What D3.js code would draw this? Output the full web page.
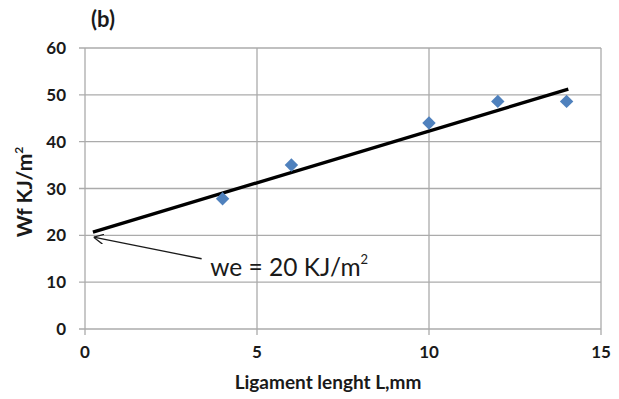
<!DOCTYPE html>
<meta charset="utf-8">
<script src="https://cdn.jsdelivr.net/npm/d3@7"></script>
<style>
  body { margin: 0; background: #fff; }
  text { font-family: Lato, "Open Sans", sans-serif; }
</style>
<div id="my_dataviz"></div>
<script>
// data
var lengths = [4, 6, 10, 12, 14];
var energies = [27.8, 35, 44, 48.6, 48.6];
// straight trend line, its two ends
var trendX = [0.23, 14.05];
var trendY = [20.7, 51.2];
var xTicks = [0, 5, 10, 15];
var yTicks = [0, 10, 20, 30, 40, 50, 60];

var margin = {top: 48, right: 18, bottom: 70, left: 85},
    width = 619 - margin.left - margin.right,
    height = 399 - margin.top - margin.bottom;

var svg = d3.select("#my_dataviz")
  .append("svg")
    .attr("width", 619)
    .attr("height", 399)
  .append("g")
    .attr("transform", "translate(" + margin.left + "," + margin.top + ")");

var x = d3.scaleLinear().domain([0, 15]).range([0, 516]);
var y = d3.scaleLinear().domain([0, 60]).range([281, 0]);

// grid
svg.selectAll(".hgrid").data(yTicks).enter().append("line")
  .attr("x1", -6).attr("x2", x(15))
  .attr("y1", function(d) { return y(d); })
  .attr("y2", function(d) { return y(d); })
  .attr("stroke", "#ababab").attr("stroke-width", 1.3);
svg.selectAll(".vgrid").data(xTicks).enter().append("line")
  .attr("y1", y(60)).attr("y2", y(0) + 6)
  .attr("x1", function(d) { return x(d); })
  .attr("x2", function(d) { return x(d); })
  .attr("stroke", "#ababab").attr("stroke-width", 1.3);

// tick labels
svg.selectAll(".ylab").data(yTicks).enter().append("text")
  .attr("x", -19)
  .attr("y", function(d) { return y(d) + 6; })
  .attr("text-anchor", "end")
  .attr("font-size", "17px").attr("font-weight", "bold").attr("fill", "#1a1a1a")
  .text(function(d) { return d; });
svg.selectAll(".xlab").data(xTicks).enter().append("text")
  .attr("x", function(d) { return x(d); })
  .attr("y", y(0) + 29)
  .attr("text-anchor", "middle")
  .attr("font-size", "17px").attr("font-weight", "bold").attr("fill", "#1a1a1a")
  .text(function(d) { return d; });

// axis titles
svg.append("text")
  .attr("x", 243).attr("y", y(0) + 60)
  .attr("font-size", "19px").attr("font-weight", "bold").attr("fill", "#1a1a1a")
  .attr("x", 328 - margin.left).attr("text-anchor", "middle")
  .text("Ligament lenght L,mm");

var yt = svg.append("text")
  .attr("transform", "translate(-53," + 144 + ") rotate(-90)")
  .attr("text-anchor", "middle")
  .attr("font-size", "21px").attr("font-weight", "bold").attr("fill", "#1a1a1a");
yt.append("tspan").text("Wf KJ/m");
yt.append("tspan").attr("font-size", "12px").attr("dy", -9).text("2");

svg.append("text")
  .attr("x", 6).attr("y", -21)
  .attr("font-size", "22px").attr("font-weight", "bold").attr("fill", "#1a1a1a")
  .text("(b)");

// trend line
svg.append("line")
  .attr("x1", x(trendX[0])).attr("y1", y(trendY[0]))
  .attr("x2", x(trendX[1])).attr("y2", y(trendY[1]))
  .attr("stroke", "#000").attr("stroke-width", 3.4);

// points
svg.selectAll(".pt").data(lengths).enter().append("path")
  .attr("d", d3.symbol().type(d3.symbolDiamond2).size(115))
  .attr("transform", function(d, i) { return "translate(" + x(d) + "," + y(energies[i]) + ")"; })
  .attr("fill", "#4f81bd");

// annotation arrow
svg.append("defs").append("marker")
  .attr("id", "arr").attr("viewBox", "0 0 10 10")
  .attr("refX", 10).attr("refY", 5)
  .attr("markerWidth", 10).attr("markerHeight", 10)
  .attr("markerUnits", "userSpaceOnUse")
  .attr("orient", "auto")
  .append("path").attr("d", "M0,0 L10,5 L0,10")
  .attr("fill", "none").attr("stroke", "#1a1a1a").attr("stroke-width", 1.3);
svg.append("line")
  .attr("x1", x(3.39)).attr("y1", y(15.0))
  .attr("x2", x(0.25)).attr("y2", y(19.6))
  .attr("stroke", "#1a1a1a").attr("stroke-width", 1.3)
  .attr("marker-end", "url(#arr)");

var note = svg.append("text")
  .attr("x", x(3.64)).attr("y", y(11.3))
  .attr("font-size", "24.5px").attr("fill", "#1a1a1a");
note.append("tspan").text("we = 20 KJ/m");
note.append("tspan").attr("font-size", "13px").attr("dy", -12).text("2");
</script>
